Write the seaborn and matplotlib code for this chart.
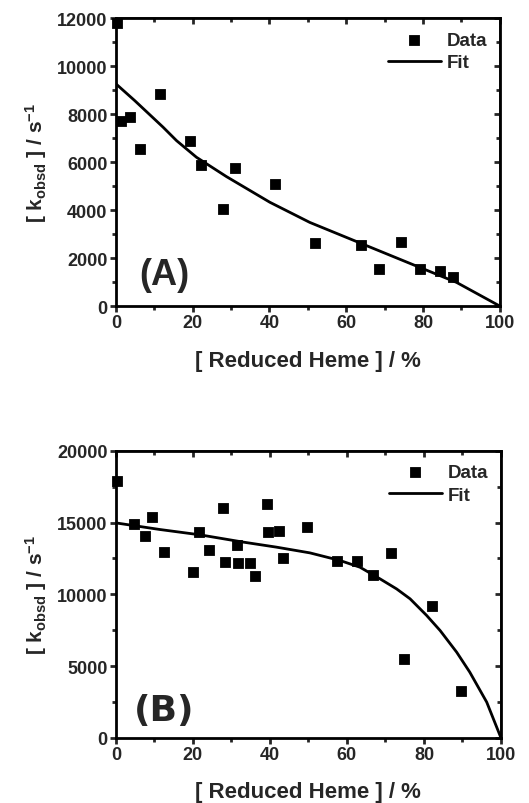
import numpy as np
import pandas as pd
import matplotlib
matplotlib.use("Agg")
import matplotlib.pyplot as plt
import seaborn as sns
from matplotlib.ticker import MultipleLocator

# panel A
a_x = [0.3, 1.3, 3.7, 6.2, 11.4, 19.4, 22.3, 27.8, 30.9, 41.4, 51.9, 63.9, 68.4, 74.2, 79.3, 84.5, 87.9]
a_y = [11800, 7710, 7880, 6560, 8850, 6900, 5900, 4060, 5750, 5100, 2640, 2540, 1530, 2670, 1540, 1460, 1220]
a_fit_x = [0, 4.9, 10, 12.3, 15.8, 21, 28.8, 40.1, 50.5, 65.3, 76.6, 88.7, 100]
a_fit_y = [9270, 8570, 7805, 7460, 6900, 6205, 5400, 4330, 3490, 2520, 1780, 990, 0]

# panel B
b_x = [0.3, 4.8, 7.5, 9.3, 12.5, 20.1, 21.5, 24.3, 27.8, 28.3, 31.5, 31.7, 34.9, 36.1,
       39.3, 39.5, 42.3, 43.3, 49.7, 57.4, 62.5, 66.8, 71.4, 74.9, 82.2, 89.6]
b_y = [17870, 14900, 14060, 15360, 12950, 11530, 14360, 13060, 15990, 12270, 13460, 12160, 12160, 11280,
       16290, 14360, 14430, 12530, 14690, 12340, 12340, 11370, 12850, 5500, 9210, 3270]
b_fit_x = [0, 11.4, 21.8, 33.1, 41.7, 50.4, 58.2, 63.4, 68.6, 72.9, 76.4, 80.7, 84.2, 88.5, 91.9, 96.3, 100]
b_fit_y = [14980, 14520, 14150, 13640, 13290, 12890, 12360, 11890, 11080, 10380, 9690, 8530, 7480, 5970, 4580, 2490, 0]


def style_axes(ax, ymax, ystep):
    ax.set_xlim(0, 100)
    ax.set_ylim(0, ymax)
    ax.xaxis.set_major_locator(MultipleLocator(20))
    ax.xaxis.set_minor_locator(MultipleLocator(10))
    ax.yaxis.set_major_locator(MultipleLocator(ystep))
    ax.yaxis.set_minor_locator(MultipleLocator(ystep / 2))
    for s in ax.spines.values():
        s.set_linewidth(2)
        s.set_color("black")
    ax.tick_params(which="both", direction="out", width=2, length=4, labelsize=13,
                   top=False, right=False, pad=2)
    ax.tick_params(which="minor", length=3)
    for lab in ax.get_xticklabels() + ax.get_yticklabels():
        lab.set_fontweight("bold")
    ax.set_xlabel("[ Reduced Heme ] / %", fontsize=16, fontweight="bold", labelpad=13)
    ax.set_ylabel(r"[ k$_{\mathbf{obsd}}$ ] / s$^{\mathbf{-1}}$", fontsize=15, fontweight="bold", labelpad=6)
    # mirrored inward ticks on top/right
    sec_x = ax.secondary_xaxis("top")
    sec_x.xaxis.set_major_locator(MultipleLocator(20))
    sec_x.xaxis.set_minor_locator(MultipleLocator(10))
    sec_x.tick_params(which="both", direction="in", width=2, length=4, labeltop=False)
    sec_x.tick_params(which="minor", length=3)
    sec_y = ax.secondary_yaxis("right")
    sec_y.yaxis.set_major_locator(MultipleLocator(ystep))
    sec_y.yaxis.set_minor_locator(MultipleLocator(ystep / 2))
    sec_y.tick_params(which="both", direction="in", width=2, length=4, labelright=False)
    sec_y.tick_params(which="minor", length=3)
    ax.grid(False)


def draw_panel(ax, xs, ys, fx, fy, ymax, ystep, tag, tag_y, tag_font):
    data = pd.DataFrame({"x": xs, "y": ys})
    fit = pd.DataFrame({"x": fx, "y": fy})
    sns.lineplot(data=fit, x="x", y="y", ax=ax, color="black", linewidth=2, label="Fit", zorder=2)
    sns.scatterplot(data=data, x="x", y="y", ax=ax, marker="s", s=55, color="black",
                    edgecolor="black", label="Data", zorder=3, clip_on=False)
    style_axes(ax, ymax, ystep)
    ax.text(12.5, tag_y, tag, fontsize=26, fontweight="bold", ha="center", va="center",
            family=tag_font)
    h, l = ax.get_legend_handles_labels()
    order = [l.index("Data"), l.index("Fit")]
    leg = ax.legend([h[i] for i in order], [l[i] for i in order], loc="upper right",
                    frameon=False, fontsize=13.5, handlelength=2.8, borderaxespad=0.3,
                    labelspacing=0.3, handletextpad=0.3)
    for t in leg.get_texts():
        t.set_fontweight("bold")


sns.set_theme(style="ticks")
plt.rcParams["font.family"] = ["Liberation Sans", "DejaVu Sans"]
plt.rcParams["mathtext.fontset"] = "custom"
plt.rcParams["mathtext.rm"] = "Liberation Sans:bold"
plt.rcParams["mathtext.bf"] = "Liberation Sans:bold"
plt.rcParams["mathtext.it"] = "Liberation Sans:bold"

fig = plt.figure(figsize=(5.29, 8.04), dpi=100)
ax_a = fig.add_axes([0.219, 0.618, 0.726, 0.358])
ax_b = fig.add_axes([0.219, 0.081, 0.728, 0.357])

draw_panel(ax_a, a_x, a_y, a_fit_x, a_fit_y, 12000, 2000, "(A)", 1300, "Liberation Sans")
draw_panel(ax_b, b_x, b_y, b_fit_x, b_fit_y, 20000, 5000, "(B)", 1950, "DejaVu Sans")

fig.savefig("out.png", dpi=100, facecolor="white")
